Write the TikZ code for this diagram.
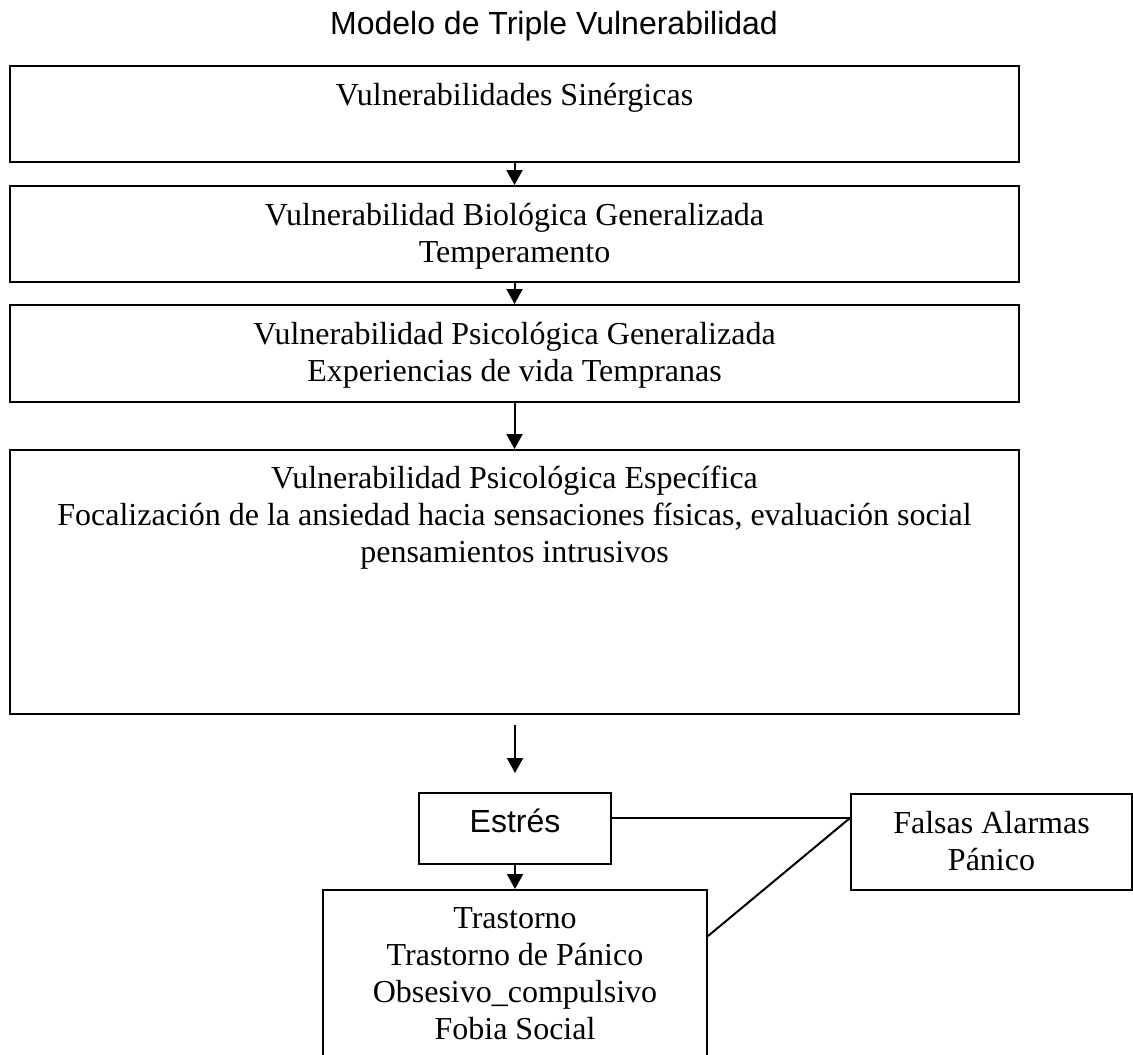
\documentclass[tikz,border=0pt]{standalone}
\usepackage{fontspec}
\setmainfont{Liberation Serif}
\setsansfont{Liberation Sans}
\usepackage{tikz}
\usetikzlibrary{arrows.meta,calc}
\tikzstyle{box} = [rectangle, draw, line width=1pt, inner sep=0pt]
\tikzstyle{box_text} = [align=center, inner sep=0pt, font=\fontsize{16}{18.5}\selectfont]
\tikzstyle{sans_text} = [inner sep=0pt, font=\sffamily\fontsize{16}{18.5}\selectfont]
\tikzstyle{line} = [draw, line width=1pt, -{Triangle[length=7.5pt,width=8pt]}]
\tikzstyle{link} = [draw, line width=1pt]

\begin{document}
\begin{tikzpicture}[x=0.5pt, y=-0.5pt]

\useasboundingbox (0,0) rectangle (1133,1054);
\clip (0,0) rectangle (1133,1054);

\node [sans_text, anchor=base] (title) at (554,35) {Modelo de Triple Vulnerabilidad};

\node [box, minimum width=504.5pt, minimum height=48pt] (sinergia) at (514.5,114) {};
\node [box, minimum width=504.5pt, minimum height=48pt] (biologica) at (514.5,234) {};
\node [box, minimum width=504.5pt, minimum height=48.5pt] (psicogen) at (514.5,353.5) {};
\node [box, minimum width=504.5pt, minimum height=132pt] (especifica) at (514.5,582) {};

\node [box, minimum width=96pt, minimum height=35.5pt] (estres) at (515,828.5) {};
\node [box, minimum width=140.5pt, minimum height=48pt] (falsas) at (991.5,842) {};
\node [box, minimum width=192pt, minimum height=85pt] (trastorno) at (515,975) {};

\node [box_text, anchor=base] (t1) at ([yshift=-20pt]sinergia.north) {Vulnerabilidades Sinérgicas};
\node [box_text, anchor=north] (t2) at ([yshift=-9pt]biologica.north) {Vulnerabilidad Biológica Generalizada\\Temperamento};
\node [box_text, anchor=north] (t3) at ([yshift=-9pt]psicogen.north) {Vulnerabilidad Psicológica Generalizada\\Experiencias de vida Tempranas};
\node [box_text, anchor=north] (t4) at ([yshift=-8.5pt]especifica.north) {Vulnerabilidad Psicológica Específica\\Focalización de la ansiedad hacia sensaciones físicas, evaluación social\\pensamientos intrusivos};
\node [sans_text, anchor=base] (t5) at ([yshift=-20pt]estres.north) {Estrés};
\node [box_text, anchor=north] (t6) at ([yshift=-9pt]falsas.north) {Falsas Alarmas\\Pánico};
\node [box_text, anchor=north] (t7) at ([yshift=-9pt]trastorno.north) {Trastorno\\Trastorno de Pánico\\Obsesivo\_compulsivo\\Fobia Social};

\coordinate (free_top) at (515,725);
\coordinate (free_end) at (515,773);
\coordinate (alarm) at ([yshift=12pt]falsas.west);

\path [line] (sinergia) -- (biologica);
\path [line] (biologica) -- (psicogen);
\path [line] (psicogen) -- (especifica);
\path [line] (free_top) -- (free_end);
\path [line] (estres) -- (trastorno);

\path [link] (alarm -| estres.east) -- (alarm);
\path [link] (alarm) -- ([yshift=-23.5pt]trastorno.north east);

\end{tikzpicture}
\end{document}
